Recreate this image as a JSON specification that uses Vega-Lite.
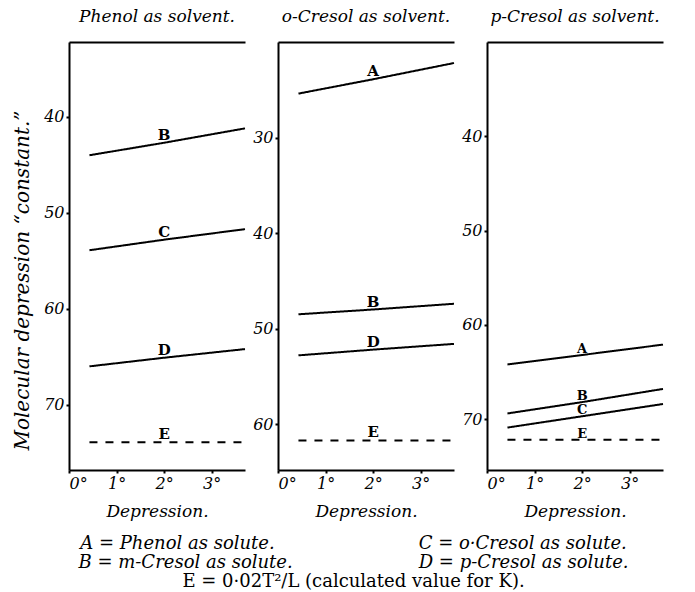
{
  "$schema": "https://vega.github.io/schema/vega-lite/v6.json",
  "background": "white",
  "padding": {"left": 12, "top": 8, "right": 30, "bottom": 3},
  "datasets": {
    "curves": [
      {"solvent": "Phenol", "curve": "B", "depression": 0.43, "K": 44.0},
      {"solvent": "Phenol", "curve": "B", "depression": 2, "K": 42.7},
      {"solvent": "Phenol", "curve": "B", "depression": 3.7, "K": 41.2},
      {"solvent": "Phenol", "curve": "C", "depression": 0.43, "K": 53.9},
      {"solvent": "Phenol", "curve": "C", "depression": 2, "K": 52.8},
      {"solvent": "Phenol", "curve": "C", "depression": 3.7, "K": 51.7},
      {"solvent": "Phenol", "curve": "D", "depression": 0.43, "K": 66.0},
      {"solvent": "Phenol", "curve": "D", "depression": 2, "K": 65.1},
      {"solvent": "Phenol", "curve": "D", "depression": 3.7, "K": 64.2},
      {"solvent": "Phenol", "curve": "E", "depression": 0.43, "K": 73.9},
      {"solvent": "Phenol", "curve": "E", "depression": 2, "K": 73.9},
      {"solvent": "Phenol", "curve": "E", "depression": 3.7, "K": 73.9},
      {"solvent": "o-Cresol", "curve": "A", "depression": 0.43, "K": 25.4},
      {"solvent": "o-Cresol", "curve": "A", "depression": 2, "K": 23.9},
      {"solvent": "o-Cresol", "curve": "A", "depression": 3.7, "K": 22.2},
      {"solvent": "o-Cresol", "curve": "B", "depression": 0.43, "K": 48.5},
      {"solvent": "o-Cresol", "curve": "B", "depression": 2, "K": 48.0},
      {"solvent": "o-Cresol", "curve": "B", "depression": 3.7, "K": 47.4},
      {"solvent": "o-Cresol", "curve": "D", "depression": 0.43, "K": 52.8},
      {"solvent": "o-Cresol", "curve": "D", "depression": 2, "K": 52.2},
      {"solvent": "o-Cresol", "curve": "D", "depression": 3.7, "K": 51.6},
      {"solvent": "o-Cresol", "curve": "E", "depression": 0.43, "K": 61.7},
      {"solvent": "o-Cresol", "curve": "E", "depression": 2, "K": 61.7},
      {"solvent": "o-Cresol", "curve": "E", "depression": 3.7, "K": 61.7},
      {"solvent": "p-Cresol", "curve": "A", "depression": 0.43, "K": 64.2},
      {"solvent": "p-Cresol", "curve": "A", "depression": 2, "K": 63.2},
      {"solvent": "p-Cresol", "curve": "A", "depression": 3.7, "K": 62.1},
      {"solvent": "p-Cresol", "curve": "B", "depression": 0.43, "K": 69.4},
      {"solvent": "p-Cresol", "curve": "B", "depression": 2, "K": 68.2},
      {"solvent": "p-Cresol", "curve": "B", "depression": 3.7, "K": 66.8},
      {"solvent": "p-Cresol", "curve": "C", "depression": 0.43, "K": 70.9},
      {"solvent": "p-Cresol", "curve": "C", "depression": 2, "K": 69.7},
      {"solvent": "p-Cresol", "curve": "C", "depression": 3.7, "K": 68.4},
      {"solvent": "p-Cresol", "curve": "E", "depression": 0.43, "K": 72.2},
      {"solvent": "p-Cresol", "curve": "E", "depression": 2, "K": 72.2},
      {"solvent": "p-Cresol", "curve": "E", "depression": 3.7, "K": 72.2}
    ]
  },
  "title": {
    "text": ["A = Phenol as solute.\u2003\u2003\u2003\u2003\u2003\u2003\u2003\u2003C = o·Cresol as solute.", "B = m-Cresol as solute.\u2003\u2003\u2003\u2003\u2003\u2003\u2003D = p-Cresol as solute."],
    "subtitle": "E = 0·02T²/L (calculated value for K).",
    "orient": "bottom",
    "anchor": "middle",
    "dx": 14,
    "offset": 16,
    "font": "DejaVu Serif",
    "fontSize": 18,
    "fontStyle": "italic",
    "fontWeight": "normal",
    "color": "black",
    "lineHeight": 19,
    "subtitleFont": "DejaVu Serif",
    "subtitleFontSize": 18,
    "subtitleFontStyle": "normal",
    "subtitleColor": "black",
    "subtitleLineHeight": 19,
    "subtitlePadding": 1
  },
  "spacing": 33,
  "bounds": "flush",
  "hconcat": [
    {
      "width": 176,
      "height": 428,
      "title": {"text": "Phenol as solvent."},
      "layer": [
        {
          "data": {"name": "curves"},
          "transform": [{"filter": "datum.solvent === 'Phenol'"}],
          "mark": {"type": "line", "color": "black", "strokeWidth": 2},
          "encoding": {
            "x": {"field": "depression", "type": "quantitative", "scale": {"domain": [0, 3.7], "nice": false, "zero": false}, "axis": {"orient": "bottom", "values": [0, 1, 2, 3], "labelExpr": "datum.value + '°'", "title": "Depression."}},
            "y": {"field": "K", "type": "quantitative", "scale": {"domain": [32.2, 76.8], "nice": false, "zero": false, "reverse": true}, "axis": {"orient": "left", "values": [40, 50, 60, 70], "title": "Molecular depression “constant.”", "titleX": -41, "titleY": 238, "titleBaseline": "alphabetic", "titleFontSize": 20}},
            "detail": {"field": "curve"},
            "strokeDash": {"field": "curve", "type": "nominal", "scale": {"domain": ["A", "B", "C", "D", "E"], "range": [[1, 0], [1, 0], [1, 0], [1, 0], [8, 8]]}, "legend": null}
          }
        },
        {
          "data": {"name": "curves"},
          "transform": [{"filter": "datum.solvent === 'Phenol' && datum.depression === 2"}],
          "mark": {"type": "text", "font": "DejaVu Serif", "fontWeight": "bold", "fontSize": 15, "dy": -3, "baseline": "alphabetic", "color": "black"},
          "encoding": {
            "x": {"field": "depression", "type": "quantitative", "scale": {"domain": [0, 3.7], "nice": false, "zero": false}, "axis": {"orient": "top", "labels": false, "ticks": false, "title": null, "domain": true}},
            "y": {"field": "K", "type": "quantitative", "scale": {"domain": [32.2, 76.8], "nice": false, "zero": false, "reverse": true}, "axis": {"orient": "left", "values": [40, 50, 60, 70], "title": "Molecular depression “constant.”", "titleX": -41, "titleY": 238, "titleBaseline": "alphabetic", "titleFontSize": 20}},
            "text": {"field": "curve"}
          }
        }
      ]
    },
    {
      "width": 176,
      "height": 428,
      "title": {"text": "o-Cresol as solvent."},
      "layer": [
        {
          "data": {"name": "curves"},
          "transform": [{"filter": "datum.solvent === 'o-Cresol'"}],
          "mark": {"type": "line", "color": "black", "strokeWidth": 2},
          "encoding": {
            "x": {"field": "depression", "type": "quantitative", "scale": {"domain": [0, 3.7], "nice": false, "zero": false}, "axis": {"orient": "bottom", "values": [0, 1, 2, 3], "labelExpr": "datum.value + '°'", "title": "Depression."}},
            "y": {"field": "K", "type": "quantitative", "scale": {"domain": [20, 64.8], "nice": false, "zero": false, "reverse": true}, "axis": {"orient": "left", "values": [30, 40, 50, 60], "title": null}},
            "detail": {"field": "curve"},
            "strokeDash": {"field": "curve", "type": "nominal", "scale": {"domain": ["A", "B", "C", "D", "E"], "range": [[1, 0], [1, 0], [1, 0], [1, 0], [8, 8]]}, "legend": null}
          }
        },
        {
          "data": {"name": "curves"},
          "transform": [{"filter": "datum.solvent === 'o-Cresol' && datum.depression === 2"}],
          "mark": {"type": "text", "font": "DejaVu Serif", "fontWeight": "bold", "fontSize": 15, "dy": -3, "baseline": "alphabetic", "color": "black"},
          "encoding": {
            "x": {"field": "depression", "type": "quantitative", "scale": {"domain": [0, 3.7], "nice": false, "zero": false}, "axis": {"orient": "top", "labels": false, "ticks": false, "title": null, "domain": true}},
            "y": {"field": "K", "type": "quantitative", "scale": {"domain": [20, 64.8], "nice": false, "zero": false, "reverse": true}, "axis": {"orient": "left", "values": [30, 40, 50, 60], "title": null}},
            "text": {"field": "curve"}
          }
        }
      ]
    },
    {
      "width": 176,
      "height": 428,
      "title": {"text": "p-Cresol as solvent."},
      "layer": [
        {
          "data": {"name": "curves"},
          "transform": [{"filter": "datum.solvent === 'p-Cresol'"}],
          "mark": {"type": "line", "color": "black", "strokeWidth": 2},
          "encoding": {
            "x": {"field": "depression", "type": "quantitative", "scale": {"domain": [0, 3.7], "nice": false, "zero": false}, "axis": {"orient": "bottom", "values": [0, 1, 2, 3], "labelExpr": "datum.value + '°'", "title": "Depression."}},
            "y": {"field": "K", "type": "quantitative", "scale": {"domain": [30, 75.4], "nice": false, "zero": false, "reverse": true}, "axis": {"orient": "left", "values": [40, 50, 60, 70], "title": null}},
            "detail": {"field": "curve"},
            "strokeDash": {"field": "curve", "type": "nominal", "scale": {"domain": ["A", "B", "C", "D", "E"], "range": [[1, 0], [1, 0], [1, 0], [1, 0], [8, 8]]}, "legend": null}
          }
        },
        {
          "data": {"name": "curves"},
          "transform": [{"filter": "datum.solvent === 'p-Cresol' && datum.depression === 2"}],
          "mark": {"type": "text", "font": "DejaVu Serif", "fontWeight": "bold", "fontSize": 13, "dy": -2, "baseline": "alphabetic", "color": "black"},
          "encoding": {
            "x": {"field": "depression", "type": "quantitative", "scale": {"domain": [0, 3.7], "nice": false, "zero": false}, "axis": {"orient": "top", "labels": false, "ticks": false, "title": null, "domain": true}},
            "y": {"field": "K", "type": "quantitative", "scale": {"domain": [30, 75.4], "nice": false, "zero": false, "reverse": true}, "axis": {"orient": "left", "values": [40, 50, 60, 70], "title": null}},
            "text": {"field": "curve"}
          }
        }
      ]
    }
  ],
  "config": {
    "view": {"stroke": null},
    "font": "DejaVu Serif",
    "title": {"font": "DejaVu Serif", "fontSize": 17, "fontStyle": "italic", "fontWeight": "normal", "color": "black", "offset": 16, "anchor": "middle"},
    "axis": {
      "grid": false,
      "domainColor": "black",
      "domainWidth": 2,
      "tickColor": "black",
      "tickWidth": 2,
      "tickSize": 3,
      "labelFont": "DejaVu Serif",
      "labelFontStyle": "italic",
      "labelFontSize": 16,
      "labelColor": "black",
      "labelPadding": 2,
      "titleFont": "DejaVu Serif",
      "titleFontStyle": "italic",
      "titleFontWeight": "normal",
      "titleFontSize": 17,
      "titleColor": "black",
      "titlePadding": 12
    }
  }
}
